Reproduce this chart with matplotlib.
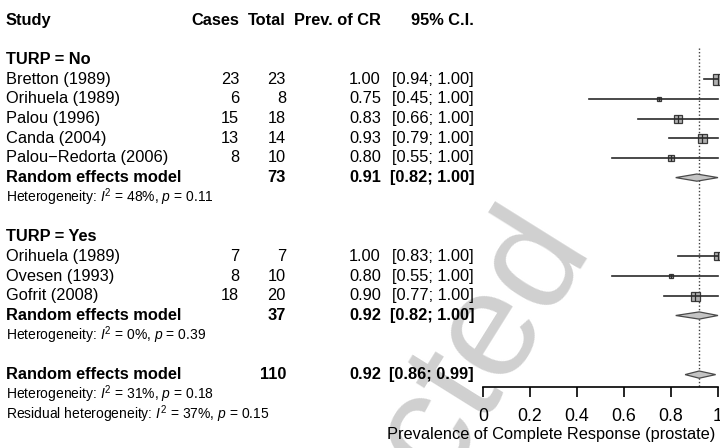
import matplotlib
matplotlib.use('Agg')
import matplotlib.pyplot as plt
import matplotlib.transforms as mtransforms

plt.rcParams['font.family'] = ['Liberation Sans', 'DejaVu Sans']
plt.rcParams['mathtext.fontset'] = 'custom'
plt.rcParams['mathtext.rm'] = 'Liberation Sans'
plt.rcParams['mathtext.it'] = 'Liberation Sans:italic'

# TURP = No
studies_no = ['Bretton (1989)', 'Orihuela (1989)', 'Palou (1996)', 'Canda (2004)', 'Palou\u2212Redorta (2006)']
cases_no = [23, 6, 15, 13, 8]
total_no = [23, 8, 18, 14, 10]
prev_no = [1.00, 0.75, 0.83, 0.93, 0.80]
lo_no = [0.94, 0.45, 0.66, 0.79, 0.55]
hi_no = [1.00, 1.00, 1.00, 1.00, 1.00]

# TURP = Yes
studies_yes = ['Orihuela (1989)', 'Ovesen (1993)', 'Gofrit (2008)']
cases_yes = [7, 8, 18]
total_yes = [7, 10, 20]
prev_yes = [1.00, 0.80, 0.90]
lo_yes = [0.83, 0.55, 0.77]
hi_yes = [1.00, 1.00, 1.00]

# random effects summaries: No, Yes, overall
rem_total = [73, 37, 110]
rem_est = [0.91, 0.92, 0.92]
rem_lo = [0.82, 0.82, 0.86]
rem_hi = [1.00, 1.00, 0.99]
het_i2 = [48, 0, 31]
het_p = [0.11, 0.39, 0.18]
resid_i2 = 37
resid_p = 0.15

xticks = [0, 0.2, 0.4, 0.6, 0.8, 1]
xtick_labels = ['0', '0.2', '0.4', '0.6', '0.8', '1']

# square sizes (pixels)
sq_no = [11, 5, 7.5, 9, 6]
sq_yes = [8, 5, 9]

W, H = 720, 448
ROW0, ROWH = 20, 19.7

fig = plt.figure(figsize=(W / 100, H / 100), dpi=100)
ax = fig.add_axes([483 / W, 0, 235 / W, 1])
ax.patch.set_visible(False)
ax.set_xlim(0, 1)
ax.set_ylim((H - ROW0) / ROWH, -ROW0 / ROWH)

# watermark (only "...cted" shows in the picture)
wm = fig.text(588 / W, 1 - 240 / H, 'Uncorrected', rotation=58, rotation_mode='anchor',
              ha='right', va='baseline', fontsize=108, color='#d0d0d0', zorder=-1)
wm.set_clip_box(mtransforms.TransformedBbox(mtransforms.Bbox([[0, 0], [588 / W, 1]]), fig.transFigure))

tr = mtransforms.blended_transform_factory(fig.transFigure, ax.transData)
FS = 11.8
FS_SMALL = 10

def txt(xpx, row, s, ha='left', bold=False, size=FS):
    fig.text(xpx / W, row, s, transform=tr, ha=ha, va='center', fontsize=size,
             fontweight='bold' if bold else 'normal', color='black')

# column edges
X_STUDY, X_CASES, X_TOTAL, X_PREV, X_CI = 6, 239, 286, 381, 474

txt(X_STUDY, 0, 'Study', bold=True)
txt(X_CASES, 0, 'Cases', ha='right', bold=True)
txt(X_TOTAL, 0, 'Total', ha='right', bold=True)
txt(X_PREV, 0, 'Prev. of CR', ha='right', bold=True)
txt(X_CI, 0, '95% C.I.', ha='right', bold=True)

def study_rows(start, names, cases, totals, prev, lo, hi, sizes):
    for i, name in enumerate(names):
        r = start + i
        txt(X_STUDY, r, name)
        txt(X_CASES, r, str(cases[i]), ha='right')
        txt(X_TOTAL, r, str(totals[i]), ha='right')
        txt(X_PREV, r, f'{prev[i]:.2f}', ha='right')
        txt(X_CI, r, f'[{lo[i]:.2f}; {hi[i]:.2f}]', ha='right')
        ms = sizes[i] * 0.72
        ax.plot(prev[i], r, marker='s', ms=ms, mfc='#b0b0b0', mec='#3a3a3a', mew=0.9,
                clip_on=False, zorder=3)
        ax.plot([lo[i], hi[i]], [r, r], color='#2a2a2a', lw=1.2, clip_on=False, zorder=4)
        ax.plot(prev[i], r, marker='|', ms=ms, mec='#2a2a2a', mew=0.9, clip_on=False, zorder=4)

def rem_row(r, k):
    txt(X_STUDY, r, 'Random effects model', bold=True)
    txt(X_TOTAL, r, str(rem_total[k]), ha='right', bold=True)
    txt(X_PREV, r, f'{rem_est[k]:.2f}', ha='right', bold=True)
    txt(X_CI, r, f'[{rem_lo[k]:.2f}; {rem_hi[k]:.2f}]', ha='right', bold=True)
    h = 3.6 / ROWH
    ax.fill([rem_lo[k], rem_est[k], rem_hi[k], rem_est[k]], [r, r - h, r, r + h],
            facecolor='#c4c4c4', edgecolor='#4a4a4a', lw=0.9, clip_on=False, zorder=3)

def het_row(r, i2, p, label='Heterogeneity'):
    txt(X_STUDY, r, label + r': $\mathit{I}^2$ = ' + f'{i2}%, ' + r'$\mathit{p}$' + f' = {p:.2f}',
        size=FS_SMALL)

txt(X_STUDY, 2, 'TURP = No', bold=True)
study_rows(3, studies_no, cases_no, total_no, prev_no, lo_no, hi_no, sq_no)
rem_row(8, 0)
het_row(9, het_i2[0], het_p[0])

txt(X_STUDY, 11, 'TURP = Yes', bold=True)
study_rows(12, studies_yes, cases_yes, total_yes, prev_yes, lo_yes, hi_yes, sq_yes)
rem_row(15, 1)
het_row(16, het_i2[1], het_p[1])

rem_row(18, 2)
het_row(19, het_i2[2], het_p[2])
het_row(20, resid_i2, resid_p, label='Residual heterogeneity')

# reference line at overall estimate
axis_row = (387 - ROW0) / ROWH
ax.plot([rem_est[2], rem_est[2]], [1.4, axis_row], color='#404040', lw=1, ls=(0, (1, 1.5)), zorder=2)

for s in ['left', 'right', 'top']:
    ax.spines[s].set_visible(False)
ax.spines['bottom'].set_position(('data', axis_row))
ax.spines['bottom'].set_linewidth(1.2)
ax.set_yticks([])
ax.set_xticks(xticks)
ax.set_xticklabels(xtick_labels, fontsize=12.8)
ax.tick_params(axis='x', direction='out', length=7.2, width=1.2, pad=8)

fig.text(551.5 / W, 1 - 434 / H, 'Prevalence of Complete Response (prostate)',
         ha='center', va='center', fontsize=FS)

fig.savefig('out.png', dpi=100)
